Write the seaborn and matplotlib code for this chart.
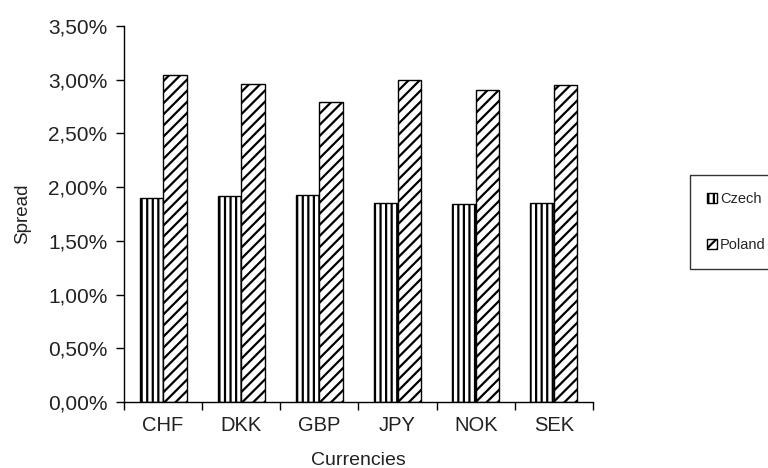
import matplotlib
matplotlib.use("Agg")
import matplotlib.pyplot as plt
import seaborn as sns
import pandas as pd
from matplotlib.ticker import FuncFormatter, FixedLocator, NullFormatter
from matplotlib.patches import Patch

currencies = ["CHF", "DKK", "GBP", "JPY", "NOK", "SEK"]
czech = [1.90, 1.92, 1.93, 1.85, 1.84, 1.85]
poland = [3.04, 2.96, 2.79, 3.00, 2.90, 2.95]
series = ["Czech", "Poland"]
yticks = [0, 0.5, 1.0, 1.5, 2.0, 2.5, 3.0, 3.5]

df = pd.DataFrame({
    "Currency": currencies * 2,
    "Spread": czech + poland,
    "Country": [series[0]] * len(currencies) + [series[1]] * len(currencies),
})

sns.set_style("white")
plt.rcParams["font.family"] = ["Liberation Sans", "DejaVu Sans"]
plt.rcParams["hatch.linewidth"] = 1.6

fig = plt.figure(figsize=(7.68, 4.68), dpi=100)
ax = fig.add_axes([124/768, 1-402/468, (593-124)/768, (402-26)/468])

sns.barplot(data=df, x="Currency", y="Spread", hue="Country", order=currencies,
            hue_order=series, palette=["white", "white"], width=0.6,
            edgecolor="black", linewidth=1.0, ax=ax, legend=False, saturation=1)

hatches = {"Czech": "|||", "Poland": "///"}
for container, name in zip(ax.containers, series):
    for bar in container:
        bar.set_hatch(hatches[name])
        bar.set_edgecolor("black")

ax.set_ylim(0, 3.5)
ax.set_xlim(-0.5, len(currencies) - 0.5)
ax.set_yticks(yticks)
ax.yaxis.set_major_formatter(FuncFormatter(lambda v, p: f"{v:.2f}%".replace(".", ",")))
ax.xaxis.set_minor_locator(FixedLocator([i - 0.5 for i in range(len(currencies) + 1)]))
ax.xaxis.set_minor_formatter(NullFormatter())
ax.tick_params(axis="x", which="major", length=0, pad=10, labelsize=14.5, colors="#222222")
ax.tick_params(axis="x", which="minor", length=6, width=1, color="black", direction="out")
ax.tick_params(axis="y", which="major", length=6, width=1, color="black", direction="out",
               labelsize=15, labelcolor="#222222", pad=6)
ax.tick_params(bottom=True, left=True, which="both")

for s in ["top", "right"]:
    ax.spines[s].set_visible(False)
for s in ["left", "bottom"]:
    ax.spines[s].set_color("black")
    ax.spines[s].set_linewidth(1.0)

ax.set_xlabel("Currencies", fontsize=14, color="#222222", labelpad=12)
ax.set_ylabel("Spread", fontsize=13.5, color="#222222", labelpad=12)

handles = [Patch(facecolor="white", edgecolor="black", hatch=hatches[n], label=n) for n in series]
leg = fig.legend(handles=handles, loc="upper left", bbox_to_anchor=(690/768, 1-175/468),
                 frameon=True, fancybox=False, edgecolor="black", fontsize=10.5,
                 handlelength=0.7, handleheight=0.7, handletextpad=0.2,
                 labelspacing=2.2, borderpad=1.15, borderaxespad=0)
leg.get_frame().set_linewidth(1.0)

fig.savefig("out.png", dpi=100)
